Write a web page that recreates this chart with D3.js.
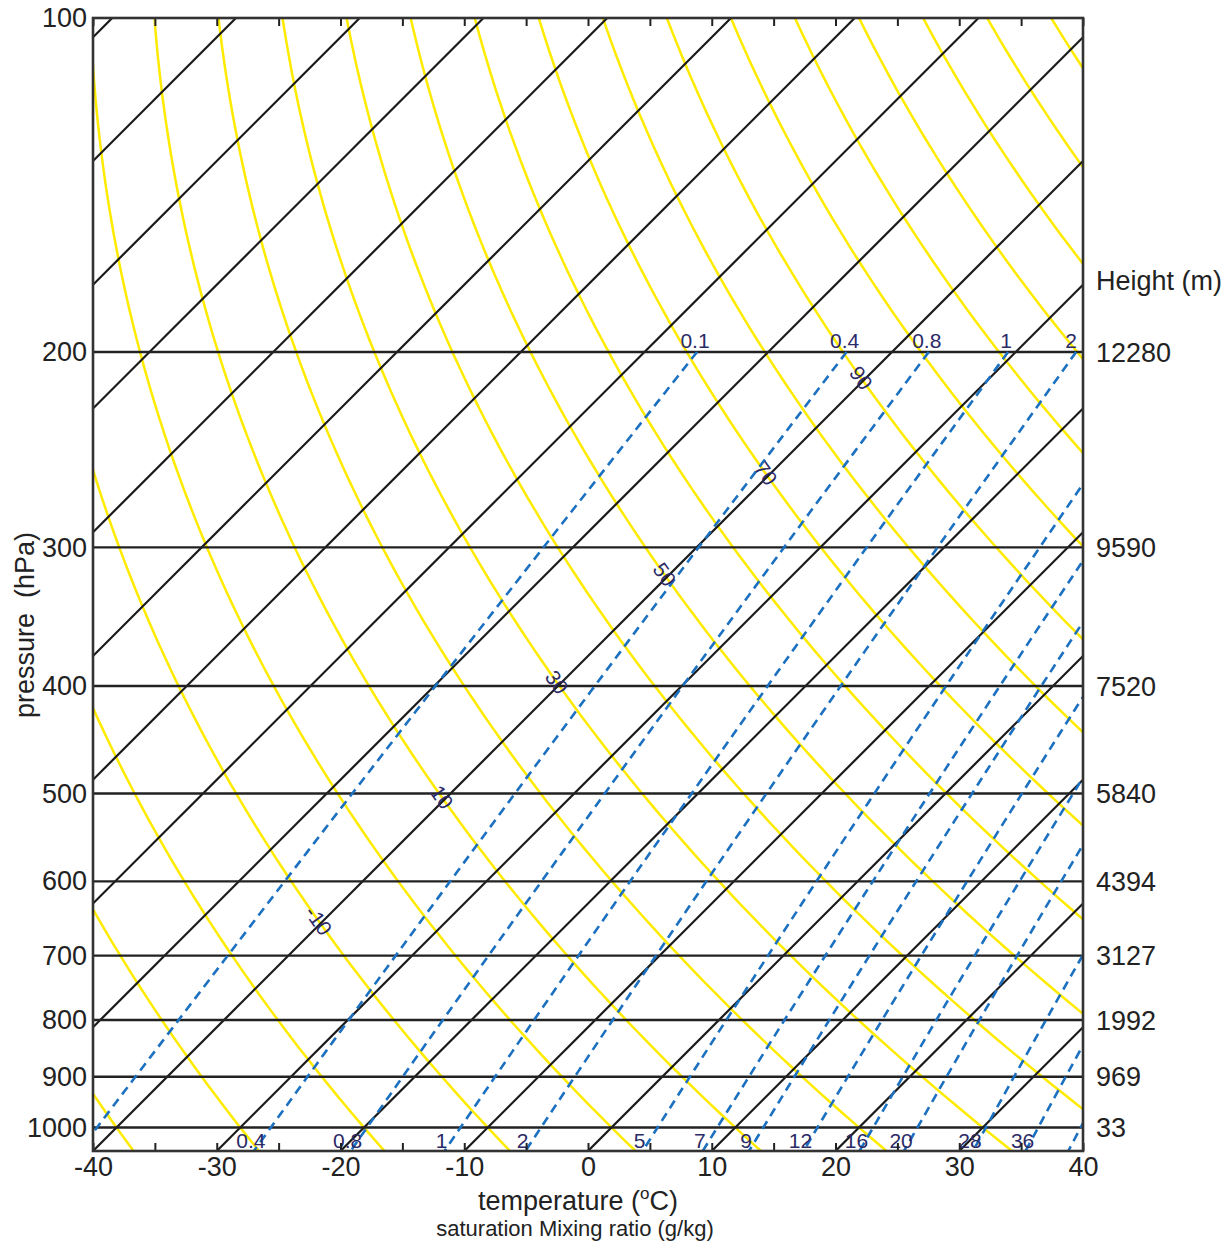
<!DOCTYPE html>
<html>
<head>
<meta charset="utf-8">
<script src="https://cdn.jsdelivr.net/npm/d3@7.8.5/dist/d3.min.js"></script>
<style>
  body { margin: 0; background: #fff; }
  svg { display: block; }
  text { font-family: "Liberation Sans", Arial, sans-serif; }
</style>
</head>
<body>
<svg id="chart" width="1231" height="1243"></svg>
<script>
// axis values
const pressureTicks = [100, 200, 300, 400, 500, 600, 700, 800, 900, 1000];
const tempTicks = [-40, -35, -30, -25, -20, -15, -10, -5, 0, 5, 10, 15, 20, 25, 30, 35, 40];
const heightLevels = [200, 300, 400, 500, 600, 700, 800, 900, 1000];
const heightLabels = ["12280", "9590", "7520", "5840", "4394", "3127", "1992", "969", "33"];

// background lines
const isotherms = [-130, -120, -110, -100, -90, -80, -70, -60, -50, -40, -30, -20, -10, 0, 10, 20, 30, 40];
const dryAdiabats = [-40, -30, -20, -10, 0, 10, 20, 30, 40, 50, 60, 70, 80, 90, 100, 110, 120, 130, 140, 150];
const adiabatLabels = [-10, 10, 30, 50, 70, 90];
const mixingRatios = [0.1, 0.4, 0.8, 1.5, 2.5, 5, 7, 9, 12, 16, 20, 28, 36, 44];

// mixing ratio labels (value of the line, text shown)
const mixBottomValues = [0.4, 0.8, 1.5, 2.5, 5, 7, 9, 12, 16, 20, 28, 36];
const mixBottomText = ["0.4", "0.8", "1", "2", "5", "7", "9", "12", "16", "20", "28", "36"];
const mixTopValues = [0.1, 0.4, 0.8, 1.5, 2.5];
const mixTopText = ["0.1", "0.4", "0.8", "1", "2"];

const plotL = 93, plotR = 1083, plotT = 18, plotB = 1151;
const pBottom = 1050, pTop = 100;

const x = d3.scaleLinear().domain([-40, 40]).range([plotL, plotR]);
const y = d3.scaleLog().domain([pTop, pBottom]).range([plotT, plotB]);
// 45 degree skew
const skewX = (T, p) => x(T) + (y(pBottom) - y(p));

const kappa = 0.286;
const adiabatT = (theta, p) => (theta + 273.15) * Math.pow(p / 1000, kappa) - 273.15;
const mixingT = (w, p) => {
  const e = (w * p) / (622 + w);
  const L = Math.log(e / 6.112);
  return (243.5 * L) / (17.67 - L);
};

const svg = d3.select("#chart");

svg.append("defs").append("clipPath").attr("id", "plot")
  .append("rect")
  .attr("x", plotL).attr("y", plotT)
  .attr("width", plotR - plotL).attr("height", plotB - plotT);

const plot = svg.append("g").attr("clip-path", "url(#plot)");

const line = d3.line().x(d => skewX(d.T, d.p)).y(d => y(d.p));
const samples = (p0, p1, n) => d3.range(n + 1).map(i => p0 * Math.pow(p1 / p0, i / n));

// dry adiabats
plot.append("g")
  .selectAll("path")
  .data(dryAdiabats)
  .join("path")
  .attr("d", th => line(samples(pTop, pBottom, 120).map(p => ({ p, T: adiabatT(th, p) }))))
  .attr("fill", "none")
  .attr("stroke", "#ffeb00")
  .attr("stroke-width", 2.5);

// isotherms
plot.append("g")
  .selectAll("path")
  .data(isotherms)
  .join("path")
  .attr("d", t => line([{ p: pBottom, T: t }, { p: pTop, T: t }]))
  .attr("fill", "none")
  .attr("stroke", "#1a1a1a")
  .attr("stroke-width", 2.2);

// isobars
plot.append("g")
  .selectAll("line")
  .data(pressureTicks.slice(1))
  .join("line")
  .attr("x1", plotL).attr("x2", plotR)
  .attr("y1", d => y(d)).attr("y2", d => y(d))
  .attr("stroke", "#222")
  .attr("stroke-width", 2.4);

// saturation mixing ratio
plot.append("g")
  .selectAll("path")
  .data(mixingRatios)
  .join("path")
  .attr("d", w => line(samples(200, pBottom, 80).map(p => ({ p, T: mixingT(w, p) }))))
  .attr("fill", "none")
  .attr("stroke", "#1c70c0")
  .attr("stroke-width", 2.6)
  .attr("stroke-dasharray", "9,6");

const labelColor = "#2b2a66";

// dry adiabat labels where they cross the -40 isotherm
svg.append("g")
  .selectAll("text")
  .data(adiabatLabels)
  .join("text")
  .attr("transform", th => {
    const p = 1000 * Math.pow(233.15 / (th + 273.15), 1 / kappa);
    const p2 = p * 1.01;
    const dx = skewX(adiabatT(th, p2), p2) - skewX(-40, p);
    const dy = y(p2) - y(p);
    const ang = Math.atan2(dy, dx) * 180 / Math.PI;
    return `translate(${skewX(-40, p) - 2},${y(p) - 3}) rotate(${ang})`;
  })
  .attr("text-anchor", "middle")
  .attr("dy", "0.35em")
  .attr("font-size", 21)
  .attr("fill", labelColor)
  .text(d => d);

// mixing ratio labels
svg.append("g")
  .selectAll("text")
  .data(mixBottomValues)
  .join("text")
  .attr("x", w => skewX(mixingT(w, pBottom), pBottom) - 3)
  .attr("y", plotB - 3)
  .attr("text-anchor", "middle")
  .attr("font-size", 21)
  .attr("fill", labelColor)
  .text((d, i) => mixBottomText[i]);

svg.append("g")
  .selectAll("text")
  .data(mixTopValues)
  .join("text")
  .attr("x", w => Math.min(skewX(mixingT(w, 200), 200) - 2, plotR - 12))
  .attr("y", y(200) - 4)
  .attr("text-anchor", "middle")
  .attr("font-size", 21)
  .attr("fill", labelColor)
  .text((d, i) => mixTopText[i]);

// axes
const fmt = d => (d % 10 === 0 ? String(d) : "");

const xBottom = svg.append("g")
  .attr("transform", `translate(0,${plotB})`)
  .call(d3.axisBottom(x).tickValues(tempTicks).tickSizeInner(-8).tickSizeOuter(0).tickPadding(6).tickFormat(fmt));

const xTop = svg.append("g")
  .attr("transform", `translate(0,${plotT})`)
  .call(d3.axisTop(x).tickValues(tempTicks).tickSizeInner(-8).tickSizeOuter(0).tickFormat(""));

const yLeft = svg.append("g")
  .attr("transform", `translate(${plotL},0)`)
  .call(d3.axisLeft(y).tickValues(pressureTicks).tickSizeInner(0).tickSizeOuter(0).tickPadding(6).tickFormat(d => String(d)));

[xBottom, xTop, yLeft].forEach(g => {
  g.select(".domain").remove();
  g.selectAll("line").attr("stroke", "#222").attr("stroke-width", 2);
  g.selectAll("text")
    .attr("font-size", 27)
    .attr("fill", "#222")
    .style("font-family", '"Liberation Sans", Arial, sans-serif');
});

// height labels on the right
svg.append("g")
  .selectAll("text")
  .data(heightLevels)
  .join("text")
  .attr("x", plotR + 13)
  .attr("y", d => y(d))
  .attr("dy", "0.36em")
  .attr("font-size", 27)
  .attr("fill", "#222")
  .text((d, i) => heightLabels[i]);

svg.append("text")
  .attr("x", plotR + 13)
  .attr("y", 280)
  .attr("dy", "0.36em")
  .attr("font-size", 27)
  .attr("fill", "#222")
  .text("Height (m)");

// frame
svg.append("rect")
  .attr("x", plotL).attr("y", plotT)
  .attr("width", plotR - plotL).attr("height", plotB - plotT)
  .attr("fill", "none")
  .attr("stroke", "#333")
  .attr("stroke-width", 2.6);

// titles
const xt = svg.append("text")
  .attr("x", 578)
  .attr("y", 1210)
  .attr("text-anchor", "middle")
  .attr("font-size", 27)
  .attr("fill", "#222");
xt.append("tspan").text("temperature (");
xt.append("tspan").attr("dy", -11).attr("font-size", 17).text("o");
xt.append("tspan").attr("dy", 11).text("C)");

svg.append("text")
  .attr("x", 575)
  .attr("y", 1236)
  .attr("text-anchor", "middle")
  .attr("font-size", 22)
  .attr("fill", "#222")
  .text("saturation Mixing ratio (g/kg)");

svg.append("text")
  .attr("transform", "translate(34,625) rotate(-90)")
  .attr("text-anchor", "middle")
  .attr("font-size", 27)
  .attr("fill", "#222")
  .attr("xml:space", "preserve")
  .style("white-space", "pre")
  .text("pressure  (hPa)");
</script>
</body>
</html>
